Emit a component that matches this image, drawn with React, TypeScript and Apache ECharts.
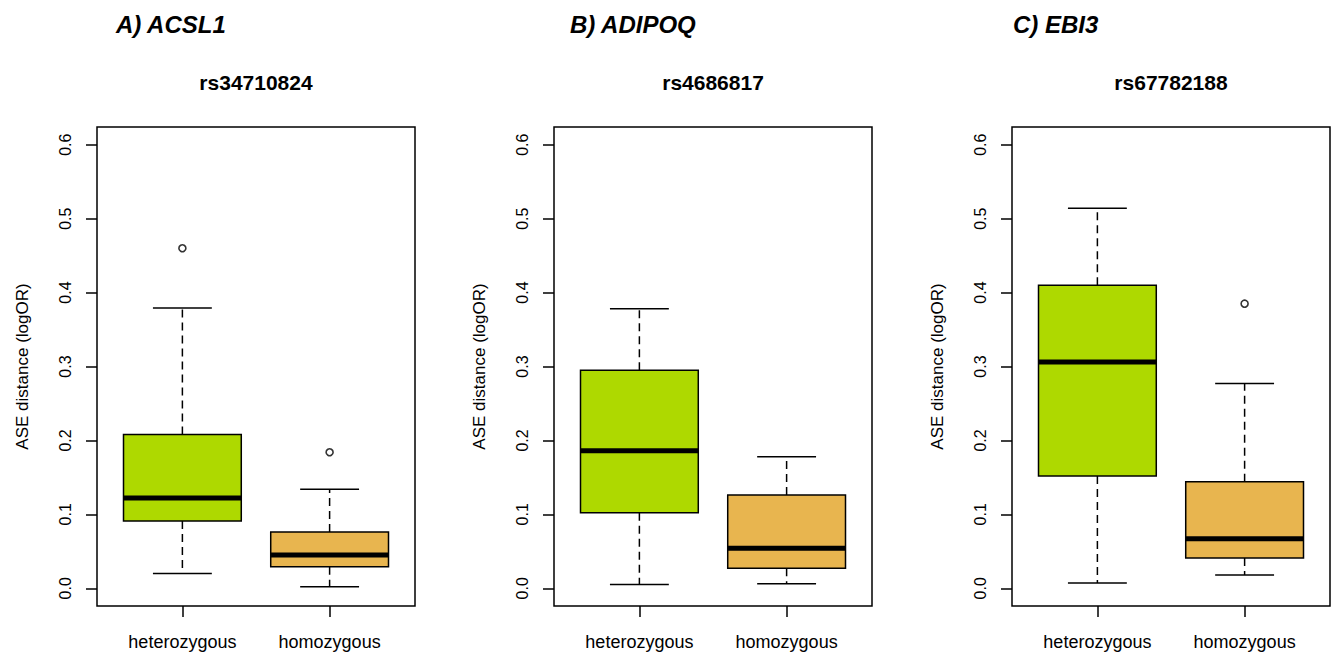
import React, { useEffect, useRef } from "react";
import * as echarts from "echarts";

// ---- data ----
const panelTitles = ["A) ACSL1", "B) ADIPOQ", "C) EBI3"];
const snpTitles = ["rs34710824", "rs4686817", "rs67782188"];
const groups = ["heterozygous", "homozygous"];
const yTicks = [0, 0.1, 0.2, 0.3, 0.4, 0.5, 0.6];

// each box: [lower whisker, Q1, median, Q3, upper whisker]
const acsl1Boxes = [
  [0.02, 0.091, 0.122, 0.208, 0.379],
  [0.002, 0.029, 0.045, 0.076, 0.134],
];
const adipoqBoxes = [
  [0.005, 0.102, 0.186, 0.295, 0.378],
  [0.006, 0.027, 0.054, 0.126, 0.178],
];
const ebi3Boxes = [
  [0.007, 0.152, 0.306, 0.41, 0.514],
  [0.018, 0.041, 0.067, 0.144, 0.277],
];
// outliers: [group position, value]
const acsl1Outliers = [
  [1, 0.46],
  [2, 0.184],
];
const adipoqOutliers: number[][] = [];
const ebi3Outliers = [[2, 0.385]];

const boxColors = ["#AED900", "#E8B54F"];

const FONT = "'Liberation Sans', Arial, Helvetica, sans-serif";

export default function App() {
  const ref = useRef<HTMLDivElement>(null);

  useEffect(() => {
    document.body.style.margin = "0";
    if (!ref.current) return;
    const chart = echarts.init(ref.current, undefined, { renderer: "svg" });

    const allBoxes = [acsl1Boxes, adipoqBoxes, ebi3Boxes];
    const allOutliers = [acsl1Outliers, adipoqOutliers, ebi3Outliers];
    const gridLefts = [97, 554, 1012];
    const gridTop = 127;
    const gridW = 318;
    const gridH = 479;

    const grids = gridLefts.map((l) => ({
      left: l,
      top: gridTop,
      width: gridW,
      height: gridH,
      show: true,
      borderColor: "#000",
      borderWidth: 1.5,
      backgroundColor: "transparent",
    }));

    const xAxes = gridLefts.map((_, i) => ({
      type: "value",
      gridIndex: i,
      position: "bottom",
      min: 0.42,
      max: 2.58,
      axisLine: { show: false, onZero: false },
      splitLine: { show: false },
      axisTick: {
        show: true,
        inside: false,
        length: 11,
        customValues: [1, 2],
        lineStyle: { color: "#000", width: 1.5 },
      },
      axisLabel: {
        customValues: [1, 2],
        formatter: (v: number) => groups[Math.round(v) - 1],
        fontSize: 18,
        color: "#000",
        margin: 27,
        fontFamily: FONT,
      },
    }));

    const yAxes = gridLefts.map((_, i) => ({
      type: "value",
      gridIndex: i,
      min: -0.024,
      max: 0.624,
      name: "ASE distance (logOR)",
      nameLocation: "middle",
      nameRotate: 90,
      nameGap: 66,
      nameTextStyle: { fontSize: 17, color: "#000", fontFamily: FONT },
      axisLine: { show: false, onZero: false },
      splitLine: { show: false },
      axisTick: {
        show: true,
        length: 11,
        customValues: yTicks,
        lineStyle: { color: "#000", width: 1.5 },
      },
      axisLabel: {
        customValues: yTicks,
        rotate: 90,
        formatter: (v: number) => v.toFixed(1),
        fontSize: 16,
        color: "#000",
        margin: 24,
        fontFamily: FONT,
      },
    }));

    const series: any[] = [];
    allBoxes.forEach((boxes, i) => {
      const data = boxes.map((b, g) => [g + 1, ...b]);
      series.push({
        type: "custom",
        xAxisIndex: i,
        yAxisIndex: i,
        encode: { x: 0, y: [1, 2, 3, 4, 5] },
        data,
        renderItem: (params: any, api: any) => {
          const x = api.value(0);
          const low = api.coord([x, api.value(1)]);
          const q1 = api.coord([x, api.value(2)]);
          const med = api.coord([x, api.value(3)]);
          const q3 = api.coord([x, api.value(4)]);
          const high = api.coord([x, api.value(5)]);
          const cx = low[0];
          const half = api.size([0.8, 0])[0] / 2;
          const capHalf = half / 2;
          const lineStyle = { stroke: "#000", lineWidth: 1.5, fill: null };
          const dashStyle = { stroke: "#000", lineWidth: 1.5, lineDash: [8, 5], fill: null };
          return {
            type: "group",
            children: [
              { type: "line", shape: { x1: cx, y1: q3[1], x2: cx, y2: high[1] }, style: dashStyle },
              { type: "line", shape: { x1: cx, y1: q1[1], x2: cx, y2: low[1] }, style: dashStyle },
              { type: "line", shape: { x1: cx - capHalf, y1: high[1], x2: cx + capHalf, y2: high[1] }, style: lineStyle },
              { type: "line", shape: { x1: cx - capHalf, y1: low[1], x2: cx + capHalf, y2: low[1] }, style: lineStyle },
              {
                type: "rect",
                shape: { x: cx - half, y: q3[1], width: half * 2, height: q1[1] - q3[1] },
                style: { fill: boxColors[params.dataIndex], stroke: "#000", lineWidth: 1.5 },
              },
              {
                type: "line",
                shape: { x1: cx - half, y1: med[1], x2: cx + half, y2: med[1] },
                style: { stroke: "#000", lineWidth: 5, fill: null },
              },
            ],
          };
        },
      });
      series.push({
        type: "scatter",
        xAxisIndex: i,
        yAxisIndex: i,
        data: allOutliers[i],
        symbol: "circle",
        symbolSize: 7,
        itemStyle: { color: "#fff", borderColor: "#000", borderWidth: 1.6 },
      });
    });

    const titleX = [116, 570, 1013];
    const graphics: any[] = [];
    panelTitles.forEach((t, i) => {
      graphics.push({
        type: "text",
        x: titleX[i],
        y: 24,
        style: {
          text: t,
          font: `italic bold 24px ${FONT}`,
          fill: "#000",
          textAlign: "left",
          textVerticalAlign: "middle",
        },
      });
      graphics.push({
        type: "text",
        x: gridLefts[i] + gridW / 2,
        y: 82,
        style: {
          text: snpTitles[i],
          font: `bold 21px ${FONT}`,
          fill: "#000",
          textAlign: "center",
          textVerticalAlign: "middle",
        },
      });
    });

    chart.setOption({
      animation: false,
      backgroundColor: "#fff",
      grid: grids,
      xAxis: xAxes,
      yAxis: yAxes,
      series,
      graphic: graphics,
    });

    return () => chart.dispose();
  }, []);

  return <div ref={ref} style={{ width: 1337, height: 656 }} />;
}
